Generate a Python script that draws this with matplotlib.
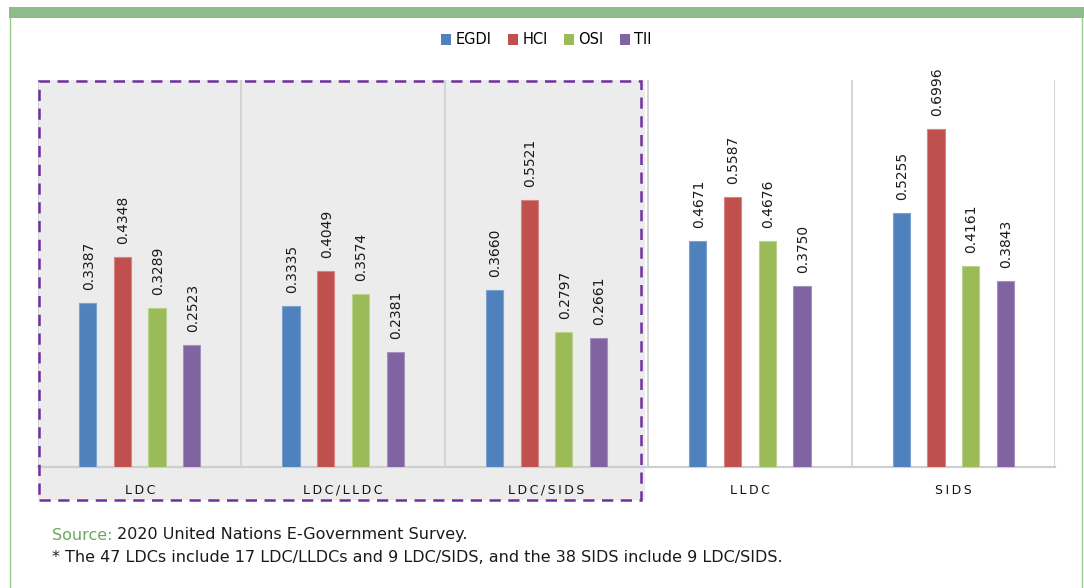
#!/usr/bin/env python3
"""EGDI / HCI / OSI / TII by country group - grouped bar chart."""

import matplotlib
matplotlib.use("Agg")
import matplotlib.pyplot as plt
from matplotlib.patches import Patch, Rectangle
from matplotlib.lines import Line2D

groups = ["LDC", "LDC/LLDC", "LDC/SIDS", "LLDC", "SIDS"]
series = ["EGDI", "HCI", "OSI", "TII"]
egdi = [0.3387, 0.3335, 0.3660, 0.4671, 0.5255]
hci = [0.4348, 0.4049, 0.5521, 0.5587, 0.6996]
osi = [0.3289, 0.3574, 0.2797, 0.4676, 0.4161]
tii = [0.2523, 0.2381, 0.2661, 0.3750, 0.3843]
values = [egdi, hci, osi, tii]
colors = ["#4f81bd", "#c0504d", "#9bbb59", "#8064a2"]
edges = ["#7fa3d1", "#d68583", "#bcd38f", "#a491bd"]

W, H = 1084, 588
fig = plt.figure(figsize=(W / 100, H / 100), dpi=100)
fig.patch.set_facecolor("white")

# frame decorations: green band on top, thin green side lines
fig.add_artist(Rectangle((9 / W, 1 - 18 / H), 1 - 9 / W, 11 / H,
                         transform=fig.transFigure, color="#8fbb8b", lw=0))
fig.add_artist(Line2D([9.5 / W, 9.5 / W], [0, 1 - 18 / H],
                      transform=fig.transFigure, color="#9cc98f", lw=1))
fig.add_artist(Line2D([1081.5 / W, 1081.5 / W], [0, 1 - 18 / H],
                      transform=fig.transFigure, color="#9cc98f", lw=1))

ax_l, ax_r, ax_t, ax_b = 38, 1055, 80, 467
ax = fig.add_axes([ax_l / W, 1 - ax_b / H, (ax_r - ax_l) / W, (ax_b - ax_t) / H])
ax.set_facecolor("none")

# grey shading behind LDC groups (spills below the axis onto the labels)
fig.add_artist(Rectangle((ax_l / W, 1 - 500 / H), (645 - ax_l) / W, (500 - ax_t) / H,
                         transform=fig.transFigure, color="#ececec", lw=0, zorder=0))

x = range(len(groups))
offsets = [-0.256, -0.085, 0.085, 0.256]
bw = 0.084
for vals, off, c, ec, name in zip(values, offsets, colors, edges, series):
    xs = [i + off for i in x]
    ax.bar(xs, vals, width=bw, color=c, edgecolor=ec, linewidth=0.8, label=name, zorder=3)
    for xi, v in zip(xs, vals):
        ax.annotate(f"{v:.4f}", (xi, v), xytext=(1, 13), textcoords="offset pixels",
                    rotation=90, ha="center", va="bottom", fontsize=10, color="#1a1a1a")

ax.set_xlim(-0.5, len(groups) - 0.5)
ax.set_ylim(0, 0.8)
ax.set_yticks([])
ax.set_xticks([])
for b in [i - 0.5 for i in range(len(groups) + 1)]:
    ax.axvline(b, color="#d4d4d4", lw=1.4, zorder=1)
for s in ["top", "left", "right"]:
    ax.spines[s].set_visible(False)
ax.spines["bottom"].set_color("#cfcfcf")
ax.spines["bottom"].set_linewidth(1.6)

# letter-spaced category labels
for i, g in enumerate(groups):
    ax.text(i, -0.048, "\u2009".join(g), ha="center", va="center", fontsize=9,
            color="#111111")

# dashed outline around the three LDC groups
fig.add_artist(Rectangle((39 / W, 1 - 500 / H), (641 - 39) / W, (500 - 81) / H,
                         transform=fig.transFigure, fill=False, edgecolor="#7030a0",
                         lw=1.8, ls=(0, (4.5, 3)), zorder=5))

handles = [Patch(facecolor=c, edgecolor="none") for c in colors]
fig.legend(handles, series, loc="center", bbox_to_anchor=((ax_l + ax_r) / 2 / W, 1 - 40 / H),
           ncol=4, frameon=False, fontsize=10.5, handlelength=0.7, handleheight=0.7,
           handletextpad=0.3, columnspacing=1.1)

note_fs = 11.5
src = fig.text(52 / W, 1 - 535 / H, "Source:", fontsize=note_fs, color="#6aaa5a", va="center")
ax.annotate(" 2020 United Nations E-Government Survey.", xy=(1, 0), xycoords=src,
            va="bottom", ha="left", fontsize=note_fs, color="#1a1a1a", annotation_clip=False)
fig.text(52 / W, 1 - 557 / H,
         "* The 47 LDCs include 17 LDC/LLDCs and 9 LDC/SIDS, and the 38 SIDS include 9 LDC/SIDS.",
         fontsize=note_fs, color="#1a1a1a", va="center")

plt.savefig("out.png", dpi=100)
